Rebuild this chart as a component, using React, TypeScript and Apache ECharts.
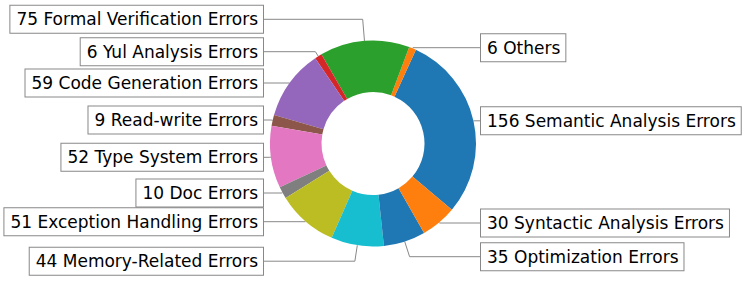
import React, { useEffect, useRef } from 'react';
import * as echarts from 'echarts';

const categories = [
  'Semantic Analysis Errors',
  'Others',
  'Formal Verification Errors',
  'Yul Analysis Errors',
  'Code Generation Errors',
  'Read-write Errors',
  'Type System Errors',
  'Doc Errors',
  'Exception Handling Errors',
  'Memory-Related Errors',
  'Optimization Errors',
  'Syntactic Analysis Errors',
];
const counts = [156, 6, 75, 6, 59, 9, 52, 10, 51, 44, 35, 30];
const colors = [
  '#1f77b4', '#ff7f0e', '#2ca02c', '#d62728', '#9467bd', '#8c564b',
  '#e377c2', '#7f7f7f', '#bcbd22', '#17becf', '#1f77b4', '#ff7f0e',
];

// layout: vertical centre of each label box (px)
const labelCenterY = [120.8, 47.7, 19.3, 51.7, 83, 120, 157.3, 193, 221.7, 261.2, 256.7, 223];

const CX = 373;
const CY = 143.5;
const R = 103;
const R_IN = 51.5;
const START = -40;
const BOX_LEFT_EDGE = CX - 110;
const BOX_RIGHT_EDGE = CX + 108;

export default function App() {
  const ref = useRef<HTMLDivElement>(null);
  useEffect(() => {
    if (!ref.current) return;
    const chart = echarts.init(ref.current, undefined, { renderer: 'svg' });
    const total = counts.reduce((a, b) => a + b, 0);
    const cum: number[] = [];
    let acc = 0;
    counts.forEach((c) => {
      cum.push(acc);
      acc += c;
    });
    const data = categories.map((name, i) => ({
      name,
      value: counts[i],
      itemStyle: { color: colors[i] },
    }));
    chart.setOption({
      animation: false,
      series: [
        {
          type: 'pie',
          center: [CX, CY],
          radius: [R_IN, R],
          startAngle: START,
          clockwise: false,
          avoidLabelOverlap: false,
          silent: true,
          data,
          itemStyle: { borderWidth: 0 },
          label: {
            show: true,
            position: 'outside',
            formatter: '{c} {b}',
            fontFamily: 'DejaVu Sans',
            fontSize: 17,
            lineHeight: 17,
            color: '#000',
            backgroundColor: '#fff',
            borderColor: '#888',
            borderWidth: 1,
            padding: [5, 5, 5, 6],
          },
          labelLine: {
            show: true,
            smooth: false,
            lineStyle: { color: '#888', width: 1 },
          },
          emphasis: { disabled: true },
          labelLayout: (params: any) => {
            const i = params.dataIndex;
            const mid = START + ((cum[i] + counts[i] / 2) / total) * 360;
            const rad = (mid * Math.PI) / 180;
            const cos = Math.cos(rad);
            const sin = Math.sin(rad);
            const px = CX + R * cos;
            const py = CY - R * sin;
            const ly = labelCenterY[i];
            const left = cos < 0;
            let t = Math.abs(sin) > 1e-6 ? (py - ly) / sin : 0;
            if (t < 0) t = 0;
            const bx = px + t * cos;
            const ex = left ? BOX_LEFT_EDGE : BOX_RIGHT_EDGE;
            return {
              x: ex,
              y: ly,
              align: left ? 'right' : 'left',
              verticalAlign: 'middle',
              labelLinePoints: [
                [px, py],
                [bx, ly],
                [ex, ly],
              ],
            };
          },
        },
      ],
    });
    return () => chart.dispose();
  }, []);
  return (
    <div
      ref={ref}
      style={{ position: 'fixed', left: 0, top: 0, width: 748, height: 281, background: '#fff' }}
    />
  );
}
